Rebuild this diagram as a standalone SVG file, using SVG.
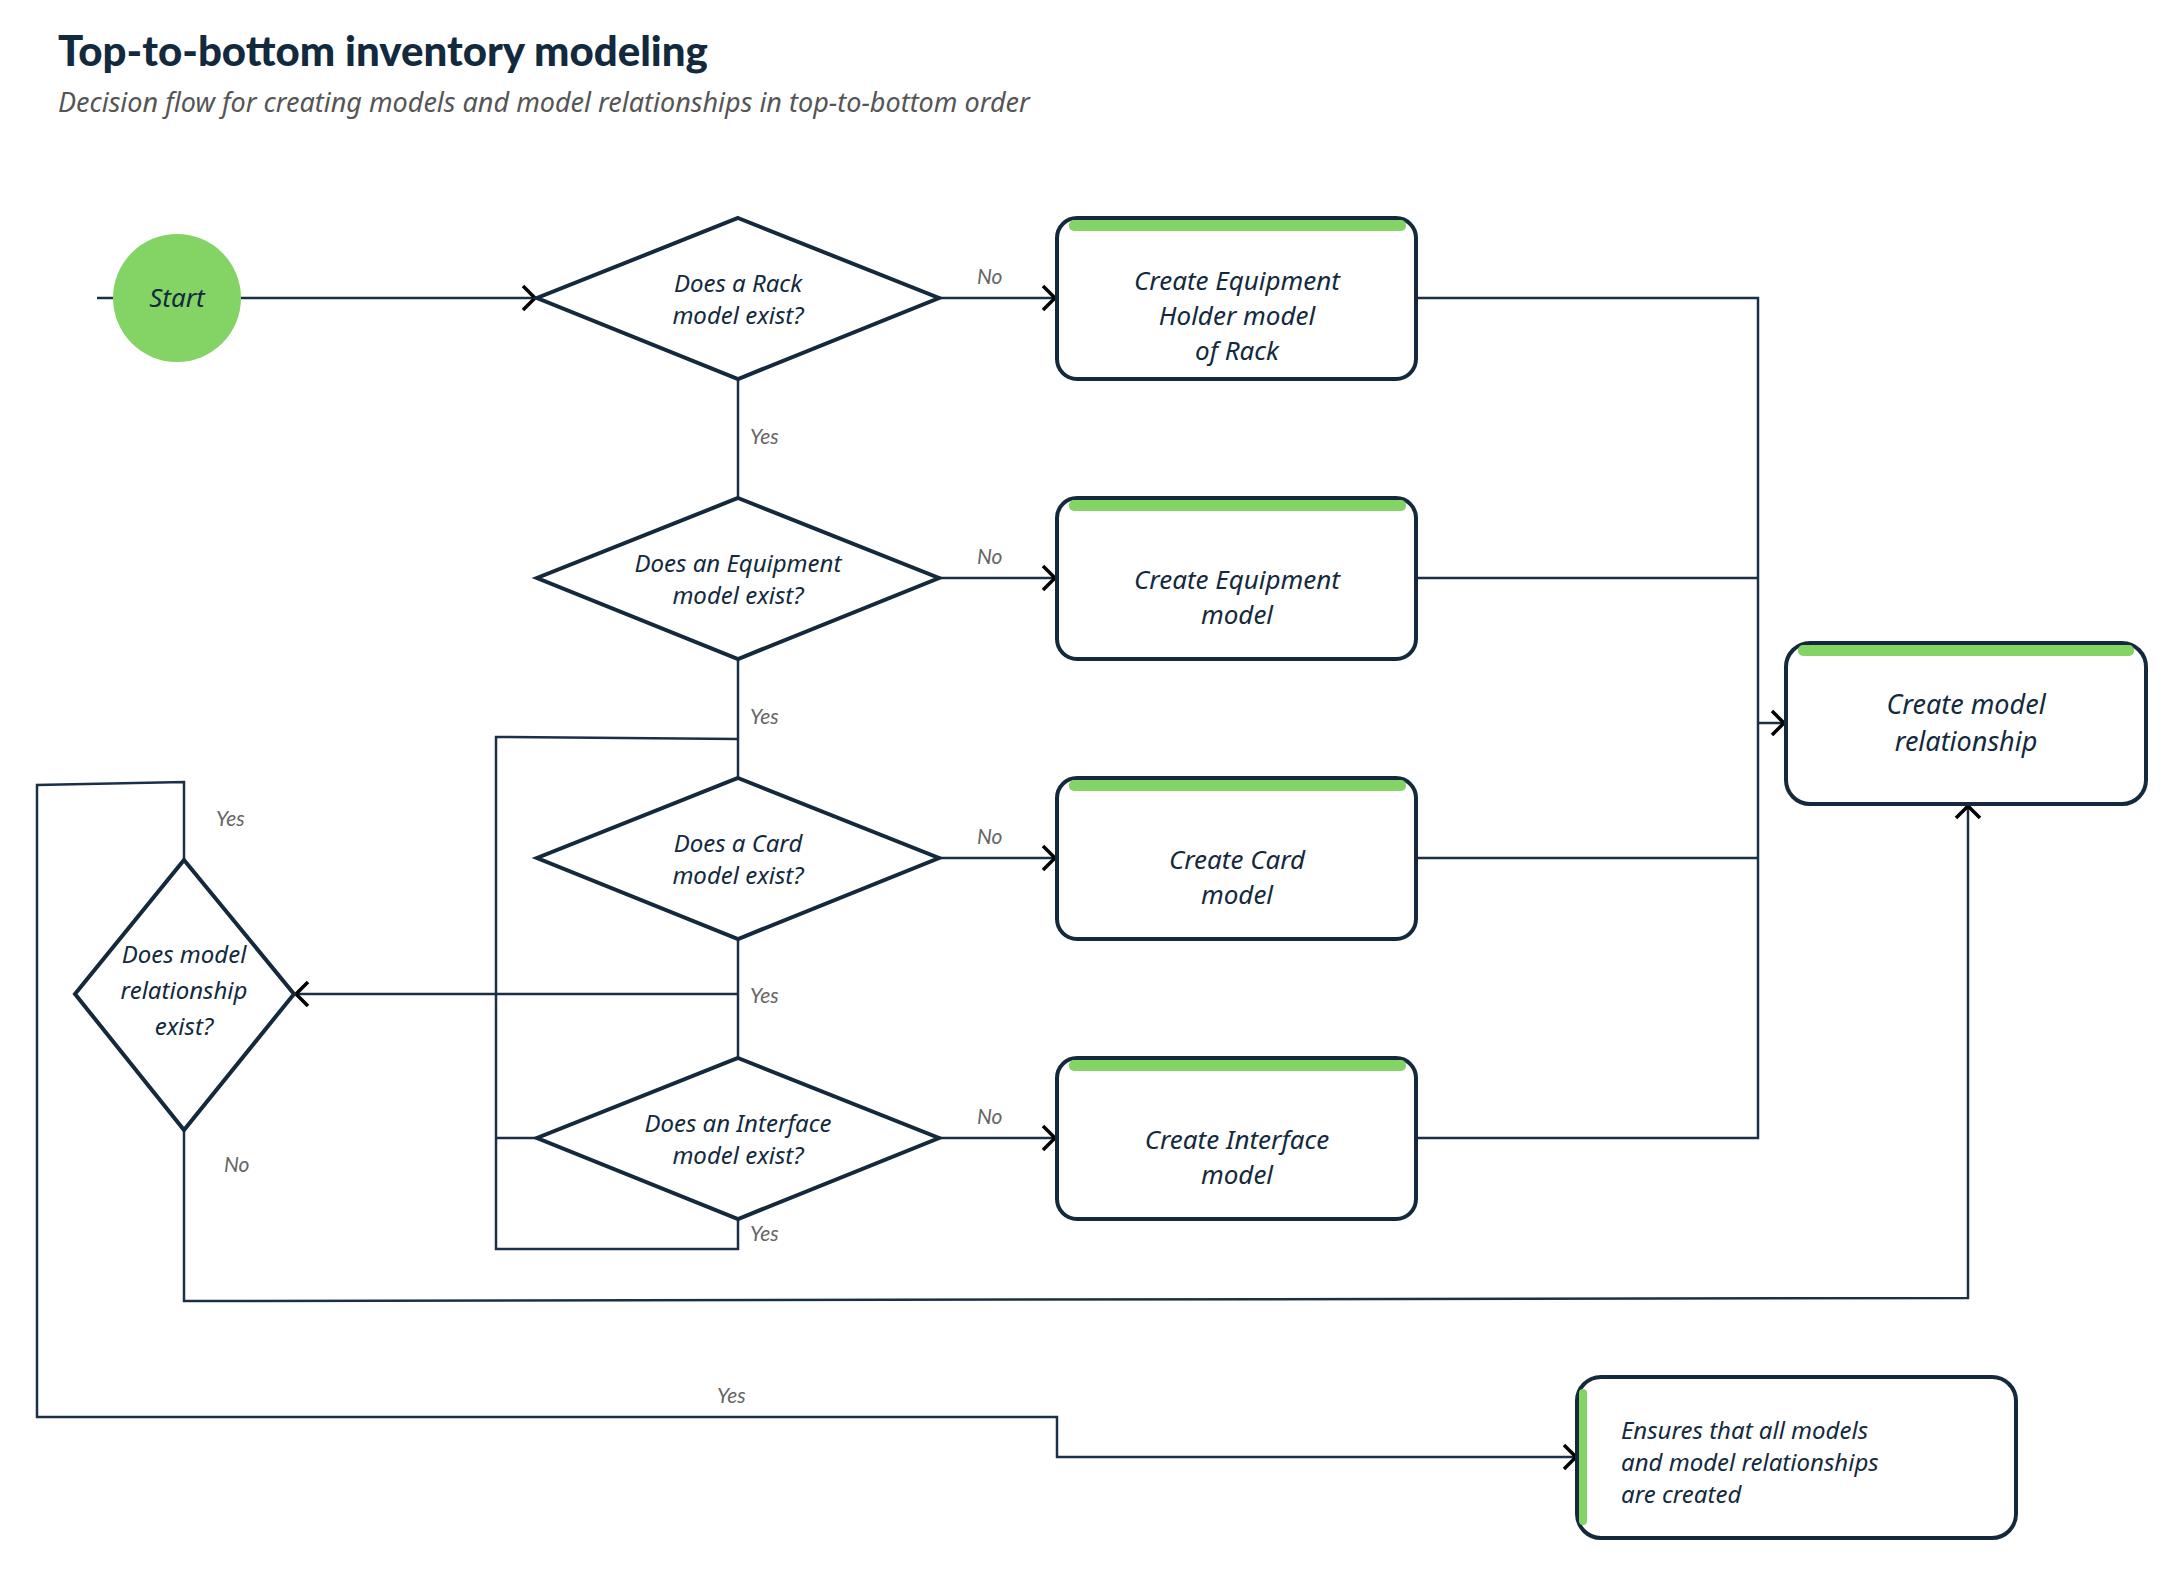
<svg xmlns="http://www.w3.org/2000/svg" width="2174" height="1576" viewBox="0 0 2174 1576">
<defs>
<style>
.title{font-family:Lato,"Liberation Sans",sans-serif;font-weight:900;font-size:42px;fill:#13293d}
.sub{font-family:"Noto Sans","Liberation Sans",sans-serif;font-style:italic;font-size:27px;fill:#555}
.t{font-family:"Noto Sans","Liberation Sans",sans-serif;font-style:italic;font-size:26px;fill:#13293d;text-anchor:middle}
.tr{font-family:"Noto Sans","Liberation Sans",sans-serif;font-style:italic;font-size:27px;fill:#13293d;text-anchor:middle}
.td{font-family:"Noto Sans","Liberation Sans",sans-serif;font-style:italic;font-size:24px;fill:#13293d;text-anchor:middle}
.tl{font-family:"Noto Sans","Liberation Sans",sans-serif;font-style:italic;font-size:24px;fill:#13293d}
.lbl{font-family:Lato,"Liberation Sans",sans-serif;font-style:italic;font-size:21px;fill:#666}
.box{fill:#fff;stroke:#15293d;stroke-width:4}
.dia{fill:#fff;stroke:#15293d;stroke-width:4;stroke-linejoin:miter}
.bar{fill:#84d465}
.c{fill:none;stroke:#1b3047;stroke-width:2.5}
.ca{fill:none;stroke:#1b3047;stroke-width:2.5;marker-end:url(#arr)}
</style>
<marker id="arr" markerUnits="userSpaceOnUse" markerWidth="18" markerHeight="30" refX="15" refY="15" orient="auto">
<path d="M3,3 L15,15 L3,27" fill="none" stroke="#000" stroke-width="3.5"/>
</marker>
</defs>
<rect width="2174" height="1576" fill="#fff"/>
<text class="title" x="58" y="66">Top-to-bottom inventory modeling</text>
<text class="sub" x="58" y="112">Decision flow for creating models and model relationships in top-to-bottom order</text>

<g id="connectors">
<path class="c" d="M97,298 H113"/>
<path class="ca" d="M241,298 H535"/>
<path class="ca" d="M939,298 H1055"/>
<path class="ca" d="M939,578 H1055"/>
<path class="ca" d="M939,858 H1055"/>
<path class="ca" d="M939,1138 H1055"/>
<path class="c" d="M738,379 V498"/>
<path class="c" d="M738,659 V778"/>
<path class="c" d="M738,939 V1058"/>
<path class="c" d="M738,739 L496,737 V1249 H738 V1219"/>
<path class="c" d="M496,1138 H537"/>
<path class="ca" d="M738,994 H296"/>
<path class="c" d="M1416,298 H1758 V1138 H1416"/>
<path class="c" d="M1416,578 H1758"/>
<path class="c" d="M1416,858 H1758"/>
<path class="ca" d="M1758,723 H1784"/>
<path class="ca" d="M184,1130 V1301 L1968,1298 V806"/>
<path class="ca" d="M184,860 V782 L37,785 V1417 H1057 V1457 H1576"/>
<text class="lbl" x="977" y="284">No</text>
<text class="lbl" x="977" y="564">No</text>
<text class="lbl" x="977" y="844">No</text>
<text class="lbl" x="977" y="1124">No</text>
<text class="lbl" x="750" y="444">Yes</text>
<text class="lbl" x="750" y="724">Yes</text>
<text class="lbl" x="750" y="1003">Yes</text>
<text class="lbl" x="750" y="1241">Yes</text>
<text class="lbl" x="216" y="826">Yes</text>
<text class="lbl" x="224" y="1172">No</text>
<text class="lbl" x="717" y="1403">Yes</text>
</g>

<g id="start">
<circle cx="177" cy="298" r="64" fill="#84d465"/>
<text class="t" x="177" y="307">Start</text>
</g>

<g id="d-rack">
<polygon class="dia" points="738,218 939,298 738,379 537,298"/>
<text class="td" x="738" y="292">Does a Rack</text>
<text class="td" x="738" y="324">model exist?</text>
</g>
<g id="d-equip">
<polygon class="dia" points="738,498 939,578 738,659 537,578"/>
<text class="td" x="738" y="572">Does an Equipment</text>
<text class="td" x="738" y="604">model exist?</text>
</g>
<g id="d-card">
<polygon class="dia" points="738,778 939,858 738,939 537,858"/>
<text class="td" x="738" y="852">Does a Card</text>
<text class="td" x="738" y="884">model exist?</text>
</g>
<g id="d-iface">
<polygon class="dia" points="738,1058 939,1138 738,1219 537,1138"/>
<text class="td" x="738" y="1132">Does an Interface</text>
<text class="td" x="738" y="1164">model exist?</text>
</g>
<g id="d-rel">
<polygon class="dia" points="184,860 294,994 184,1130 75,994"/>
<text class="td" x="184" y="963">Does model</text>
<text class="td" x="184" y="999">relationship</text>
<text class="td" x="184" y="1035">exist?</text>
</g>

<g id="b-holder">
<rect class="box" x="1057" y="218" width="359" height="161" rx="20"/>
<rect class="bar" x="1069" y="220" width="337" height="11" rx="5"/>
<text class="t" x="1237" y="290">Create Equipment</text>
<text class="t" x="1237" y="325">Holder model</text>
<text class="t" x="1237" y="360">of Rack</text>
</g>
<g id="b-equip">
<rect class="box" x="1057" y="498" width="359" height="161" rx="20"/>
<rect class="bar" x="1069" y="500" width="337" height="11" rx="5"/>
<text class="t" x="1237" y="589">Create Equipment</text>
<text class="t" x="1237" y="624">model</text>
</g>
<g id="b-card">
<rect class="box" x="1057" y="778" width="359" height="161" rx="20"/>
<rect class="bar" x="1069" y="780" width="337" height="11" rx="5"/>
<text class="t" x="1237" y="869">Create Card</text>
<text class="t" x="1237" y="904">model</text>
</g>
<g id="b-iface">
<rect class="box" x="1057" y="1058" width="359" height="161" rx="20"/>
<rect class="bar" x="1069" y="1060" width="337" height="11" rx="5"/>
<text class="t" x="1237" y="1149">Create Interface</text>
<text class="t" x="1237" y="1184">model</text>
</g>
<g id="b-rel">
<rect class="box" x="1786" y="643" width="360" height="161" rx="24"/>
<rect class="bar" x="1798" y="645" width="336" height="11" rx="5"/>
<text class="tr" x="1966" y="714">Create model</text>
<text class="tr" x="1966" y="751">relationship</text>
</g>
<g id="b-final">
<rect class="box" x="1577" y="1377" width="439" height="161" rx="24"/>
<rect class="bar" x="1579" y="1389" width="8" height="136" rx="4"/>
<text class="tl" x="1621" y="1439">Ensures that all models</text>
<text class="tl" x="1621" y="1471">and model relationships</text>
<text class="tl" x="1621" y="1503">are created</text>
</g>
</svg>
